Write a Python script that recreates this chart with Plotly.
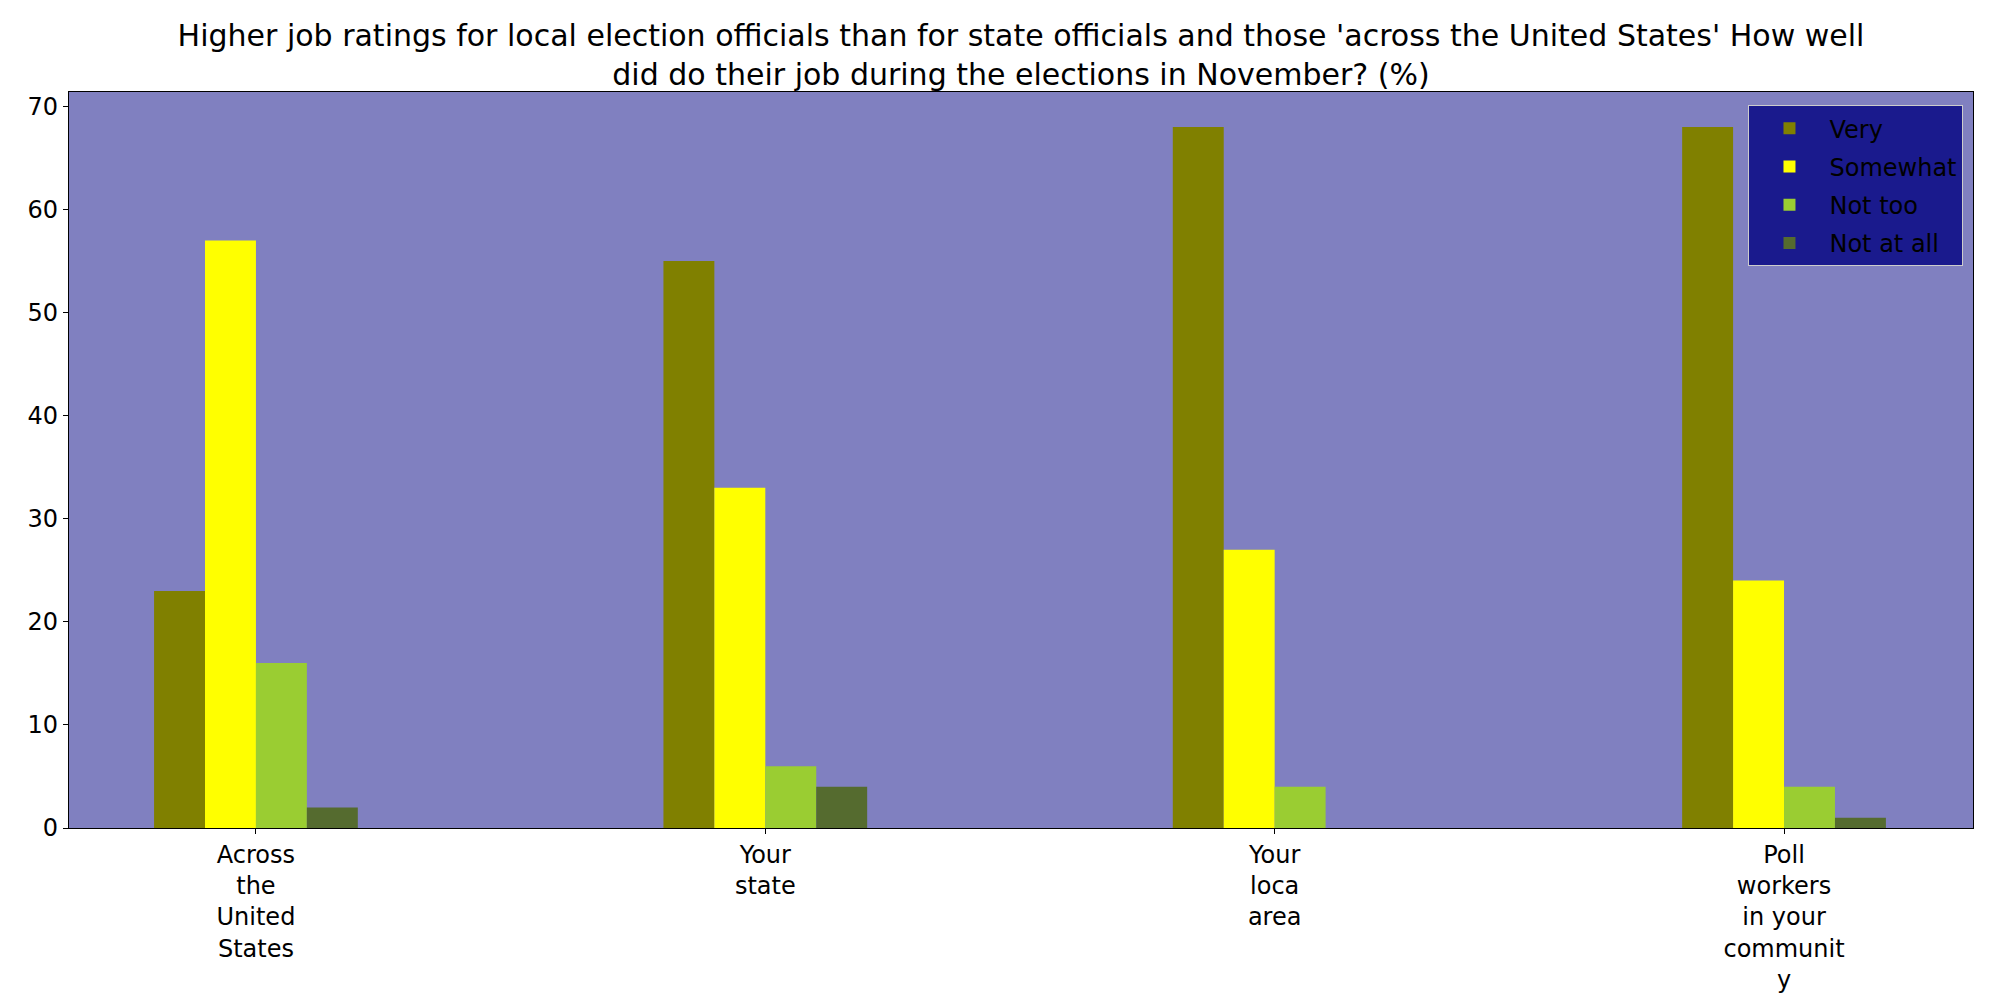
import plotly.graph_objects as go

categories = ["Across<br>the<br>United<br>States", "Your<br>state", "Your<br>loca<br>area",
              "Poll<br>workers<br>in your<br>communit<br>y"]
series_names = ["Very", "Somewhat", "Not too", "Not at all"]
very = [23, 55, 68, 68]
somewhat = [57, 33, 27, 24]
not_too = [16, 6, 4, 4]
not_at_all = [2, 4, 0, 1]
colors = ["#808000", "#ffff00", "#9acd32", "#556b2f"]

title_text = ("Higher job ratings for local election officials than for state officials and those "
              "'across the United States' How well<br>did do their job during the elections in November? (%)")

FONT = "DejaVu Sans"

fig = go.Figure()
for name, vals, col in zip(series_names, [very, somewhat, not_too, not_at_all], colors):
    fig.add_trace(go.Bar(x=categories, y=vals, name=name, legendgroup=name,
                         marker=dict(color=col, line=dict(width=0))))

fig.update_layout(
    width=2000, height=1000,
    margin=dict(l=69, r=27, t=92, b=172, autoexpand=False),
    paper_bgcolor="white",
    plot_bgcolor="#8080c0",
    barmode="group", bargap=0.6, bargroupgap=0,
    font=dict(family=FONT, size=24, color="black"),
    title=dict(text=title_text, x=0.5, xref="paper", xanchor="center",
               y=0.954, yref="container", yanchor="middle",
               font=dict(family=FONT, size=30, color="black")),
    legend=dict(x=0.995, xanchor="right", y=0.982, yanchor="top",
                bgcolor="#1a1a8d", bordercolor="#cccccc", borderwidth=1,
                font=dict(family=FONT, size=24, color="black"),
                tracegroupgap=4, itemwidth=70),
    showlegend=True,
)
fig.update_xaxes(range=[-0.367, 3.371], showline=True, mirror=True, linecolor="black", linewidth=1.2,
                 ticks="outside", ticklen=5, tickcolor="black", showgrid=False, zeroline=False,
                 automargin=False,
                 tickfont=dict(family=FONT, size=24, color="black"))
fig.update_yaxes(range=[0, 71.4], showline=True, mirror=True, linecolor="black", linewidth=1.2,
                 ticks="outside", ticklen=5, tickcolor="black", showgrid=False, zeroline=False,
                 automargin=False,
                 tickvals=[0, 10, 20, 30, 40, 50, 60, 70],
                 tickfont=dict(family=FONT, size=24, color="black"))

fig.write_html("out.html", config={"displayModeBar": False},
               post_script="document.body.style.margin='0';document.body.style.padding='0';")
